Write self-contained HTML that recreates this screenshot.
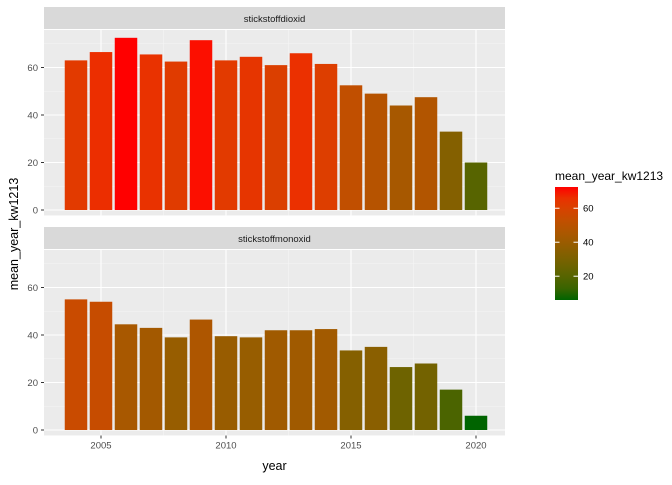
<!DOCTYPE html>
<html><head><meta charset="utf-8"><style>
body{margin:0;background:#fff;font-family:"Liberation Sans",sans-serif;}
</style></head><body>
<svg id="chart" width="672" height="480" xmlns="http://www.w3.org/2000/svg">
<defs><linearGradient id="cbar" x1="0" y1="1" x2="0" y2="0"></linearGradient></defs>
</svg>
<script>
const years=[2004,2005,2006,2007,2008,2009,2010,2011,2012,2013,2014,2015,2016,2017,2018,2019,2020];
const no2=[63,66.5,72.5,65.5,62.5,71.5,63,64.5,61,66,61.5,52.5,49,44,47.5,33,20];
const no=[55,54,44.5,43,39,46.5,39.5,39,42,42,42.5,33.5,35,26.5,28,17,6];
const panelNames=["stickstoffdioxid","stickstoffmonoxid"];
const xTicks=[2005,2010,2015,2020];
const yTicks=[0,20,40,60];
const legendTicks=[20,40,60];
const svg=document.getElementById('chart');
const NS="http://www.w3.org/2000/svg";
function mk(t,a,p){const e=document.createElementNS(NS,t);for(const k in a)e.setAttribute(k,a[k]);(p||svg).appendChild(e);return e;}
const all=no2.concat(no);const vmin=Math.min(...all),vmax=Math.max(...all);
function toLab(r,g,b){const f=c=>{c/=255;return c<=0.04045?c/12.92:Math.pow((c+0.055)/1.055,2.4)};r=f(r);g=f(g);b=f(b);
 let X=(0.4124*r+0.3576*g+0.1805*b)/0.95047,Y=0.2126*r+0.7152*g+0.0722*b,Z=(0.0193*r+0.1192*g+0.9505*b)/1.08883;
 const h=t=>t>0.008856?Math.cbrt(t):7.787*t+16/116;X=h(X);Y=h(Y);Z=h(Z);return [116*Y-16,500*(X-Y),200*(Y-Z)];}
function fromLab(L,a,bb){let Y=(L+16)/116,X=a/500+Y,Z=Y-bb/200;const h=t=>t*t*t>0.008856?t*t*t:(t-16/116)/7.787;
 X=h(X)*0.95047;Y=h(Y);Z=h(Z)*1.08883;
 let r=3.2406*X-1.5372*Y-0.4986*Z,g=-0.9689*X+1.8758*Y+0.0415*Z,b=0.0557*X-0.2040*Y+1.0570*Z;
 const f=c=>{c=c<=0.0031308?12.92*c:1.055*Math.pow(c,1/2.4)-0.055;return Math.max(0,Math.min(255,Math.round(c*255)))};return `rgb(${f(r)},${f(g)},${f(b)})`;}
const lo=toLab(0,100,0),hi=toLab(255,0,0);
function colT(t){return fromLab(lo[0]+(hi[0]-lo[0])*t,lo[1]+(hi[1]-lo[1])*t,lo[2]+(hi[2]-lo[2])*t);}
function col(v){return colT((v-vmin)/(vmax-vmin));}
const grad=document.getElementById('cbar');
for(let i=0;i<=10;i++)mk('stop',{offset:i/10,'stop-color':colT(i/10)},grad);
const L=44,R=505;
const x=yr=>101+(yr-2005)*25;
const pps=2.375;
const panels=[{top:30,zero:210,data:no2},{top:250,zero:430,data:no}];
panels.forEach((p,i)=>{
  const g=mk('g',{});
  
  
  const bottom=p.zero+2.3*pps;
  const y=v=>p.zero-v*pps;
  mk('rect',{x:L,y:p.top,width:R-L,height:bottom-p.top,fill:'#ebebeb'},g);
  [10,30,50,70].forEach(v=>mk('line',{x1:L,x2:R,y1:y(v),y2:y(v),stroke:'#f5f5f5','stroke-width':0.6},g));
  [2002.5,2007.5,2012.5,2017.5].forEach(v=>{if(x(v)>L)mk('line',{x1:x(v),x2:x(v),y1:p.top,y2:bottom,stroke:'#f5f5f5','stroke-width':0.6},g);});
  yTicks.forEach(v=>{mk('line',{x1:L,x2:R,y1:y(v),y2:y(v),stroke:'#fff','stroke-width':1.1},g);
    mk('line',{x1:L-3,x2:L,y1:y(v),y2:y(v),stroke:'#333'},g);
    const t=mk('text',{x:L-6,y:y(v)+3.5,'text-anchor':'end','font-size':9.5,fill:'#4d4d4d'},g);t.textContent=v;
    });
  xTicks.forEach(v=>mk('line',{x1:x(v),x2:x(v),y1:p.top,y2:bottom,stroke:'#fff','stroke-width':1.1},g));
  years.forEach((yr,j)=>{const v=p.data[j];
    const b=mk('rect',{x:x(yr)-11.25,y:y(v),width:22.5,height:v*pps,fill:col(v)},g);
    });
  mk('rect',{x:L,y:p.top-23,width:R-L,height:22,fill:'#d9d9d9'},g);
  const st=mk('text',{x:(L+R)/2,y:p.top-8,'text-anchor':'middle','font-size':9.5,fill:'#1a1a1a'},g);st.textContent=panelNames[i];
  
});
const xb=430+2.3*pps;
xTicks.forEach(v=>{mk('line',{x1:x(v),x2:x(v),y1:xb,y2:xb+3,stroke:'#333'});
  const t=mk('text',{x:x(v),y:xb+13,'text-anchor':'middle','font-size':9.5,fill:'#4d4d4d'});t.textContent=v;
  });
const xt=mk('text',{x:(L+R)/2,y:470,'text-anchor':'middle','font-size':12.5,fill:'#000'});xt.textContent='year';

const yt=mk('text',{x:0,y:0,'text-anchor':'middle','font-size':12.5,fill:'#000',transform:'translate(18,234) rotate(-90)'});yt.textContent='mean_year_kw1213';

const lg=mk('g',{});
const lt=mk('text',{x:555,y:180,'font-size':12,fill:'#000'},lg);lt.textContent='mean_year_kw1213';
const cTop=187,cBot=300,ly=v=>cBot-(v-vmin)/(vmax-vmin)*(cBot-cTop);
mk('rect',{x:555,y:cTop,width:23,height:cBot-cTop,fill:'url(#cbar)'},lg);
legendTicks.forEach(v=>{mk('line',{x1:555,x2:559.5,y1:ly(v),y2:ly(v),stroke:'#fff'},lg);mk('line',{x1:573.5,x2:578,y1:ly(v),y2:ly(v),stroke:'#fff'},lg);
  const t=mk('text',{x:583,y:ly(v)+3.5,'font-size':9.5,fill:'#000'},lg);t.textContent=v;});
</script>
</body></html>
